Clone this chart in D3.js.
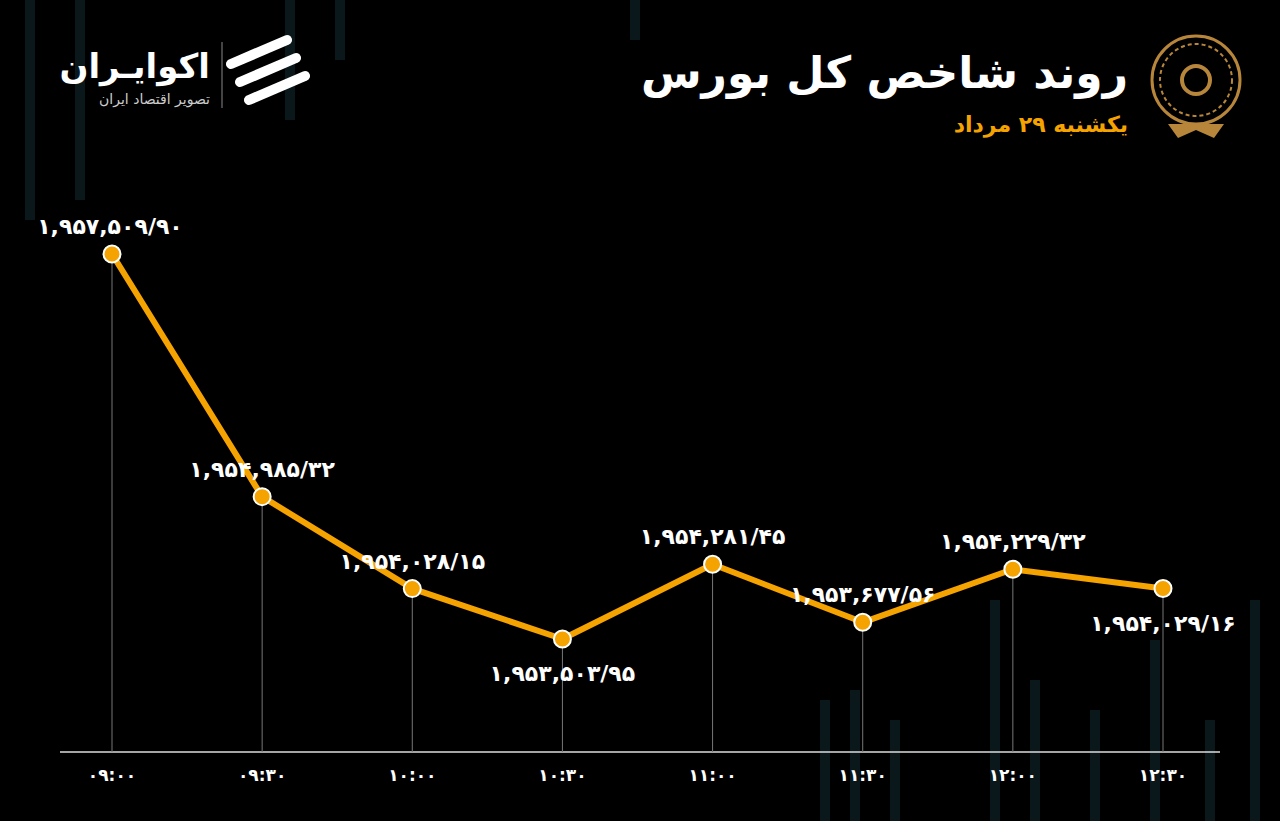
<!DOCTYPE html>
<html><head><meta charset="utf-8">
<script src="https://cdn.jsdelivr.net/npm/d3@7"></script>
<style>body{margin:0;background:#000;}svg{display:block;font-family:"DejaVu Sans",sans-serif;}</style>
</head><body>
<svg width="1280" height="821"></svg>
<script>
const times = ['09:00','09:30','10:00','10:30','11:00','11:30','12:00','12:30'];
const values = [1957509.90, 1954985.32, 1954028.15, 1953503.95, 1954281.45, 1953677.56, 1954229.32, 1954029.16];
const labelBelow = [false, false, false, true, false, false, false, true];
// faint background bars: [x, top, bottom]
const bgBars = [[25,0,220],[75,0,200],[285,0,120],[335,0,60],[630,0,40],[820,700,821],[850,690,821],[890,720,821],[990,600,821],[1030,680,821],[1090,710,821],[1150,640,821],[1205,720,821],[1250,600,821]];

const svg = d3.select('svg');
const fa = s => s.replace(/\d/g, d => '۰۱۲۳۴۵۶۷۸۹'[d]);
const fmt = v => {
  const [i, f] = v.toFixed(2).split('.');
  return fa(d3.format(',')(+i) + '/' + f);
};

svg.append('rect').attr('width',1280).attr('height',821).attr('fill','#000');
svg.selectAll('.bg').data(bgBars).enter().append('rect')
  .attr('x', d => d[0]).attr('y', d => d[1]).attr('width', 10)
  .attr('height', d => d[2]-d[1]).attr('fill', '#0a181b');

const x = d3.scalePoint().domain(times).range([112, 1163]);
const y = d3.scaleLinear().domain([d3.min(values), d3.max(values)]).range([639, 254]);
const axisY = 752;

svg.append('line').attr('x1',60).attr('x2',1220).attr('y1',axisY).attr('y2',axisY)
  .attr('stroke','#ddd').attr('stroke-width',1.5);
svg.selectAll('.tick').data(times).enter().append('text')
  .attr('x', d => x(d)).attr('y', 781).attr('text-anchor','middle')
  .attr('fill','#fff').attr('font-size',17).attr('font-weight','bold').text(d => fa(d));

svg.selectAll('.drop').data(values).enter().append('line')
  .attr('x1',(d,i)=>x(times[i])).attr('x2',(d,i)=>x(times[i]))
  .attr('y1', d => y(d)).attr('y2', axisY).attr('stroke','#777').attr('stroke-width',1);

svg.append('path').datum(values)
  .attr('d', d3.line().x((d,i)=>x(times[i])).y(d=>y(d)))
  .attr('fill','none').attr('stroke','#f5a300').attr('stroke-width',6).attr('stroke-linejoin','round');

svg.selectAll('.pt').data(values).enter().append('circle')
  .attr('cx',(d,i)=>x(times[i])).attr('cy',d=>y(d)).attr('r',8.5)
  .attr('fill','#f5a300').attr('stroke','#fff').attr('stroke-width',2);

svg.selectAll('.lbl').data(values).enter().append('text')
  .attr('x',(d,i)=>x(times[i]) + (i===0 ? -2 : 0)).attr('y',(d,i)=>y(d) + (labelBelow[i] ? 42 : -20))
  .attr('text-anchor','middle').attr('fill','#fff').attr('font-size',22).attr('font-weight','bold')
  .text(d => fmt(d));

// header (rtl text: anchor 'start' sits at the right edge)
svg.append('text').attr('x',1128).attr('y',88).attr('text-anchor','start').attr('fill','#fff')
  .attr('font-size',44).attr('font-weight','bold').attr('direction','rtl').text('روند شاخص کل بورس');
svg.append('text').attr('x',1128).attr('y',132).attr('text-anchor','start').attr('fill','#f5a300')
  .attr('font-size',22).attr('font-weight','bold').attr('direction','rtl').text('یکشنبه ۲۹ مرداد');
const em = svg.append('g').attr('transform','translate(1196,80)');
em.append('circle').attr('r',44).attr('fill','none').attr('stroke','#b8863b').attr('stroke-width',3);
em.append('circle').attr('r',36).attr('fill','none').attr('stroke','#b8863b').attr('stroke-width',2).attr('stroke-dasharray','4 3');
em.append('circle').attr('r',14).attr('fill','none').attr('stroke','#b8863b').attr('stroke-width',4);
em.append('path').attr('d','M-28,44 L-18,58 L0,50 L18,58 L28,44 Z').attr('fill','#b8863b');

// logo
svg.append('text').attr('x',210).attr('y',78).attr('text-anchor','start').attr('fill','#fff')
  .attr('font-size',34).attr('font-weight','bold').attr('direction','rtl').text('اکوایـران');
svg.append('text').attr('x',210).attr('y',104).attr('text-anchor','start').attr('fill','#ccc')
  .attr('font-size',14).attr('direction','rtl').text('تصویر اقتصاد ایران');
svg.append('line').attr('x1',222).attr('x2',222).attr('y1',42).attr('y2',108).attr('stroke','#888');
const lg = svg.append('g').attr('transform','translate(270,74)');
[-18,0,18].forEach(o => lg.append('path')
  .attr('d',`M${-30+o/2},${o+8} L${26+o/2},${o-16}`).attr('stroke','#fff').attr('stroke-width',10).attr('stroke-linecap','round'));
</script>
</body></html>
